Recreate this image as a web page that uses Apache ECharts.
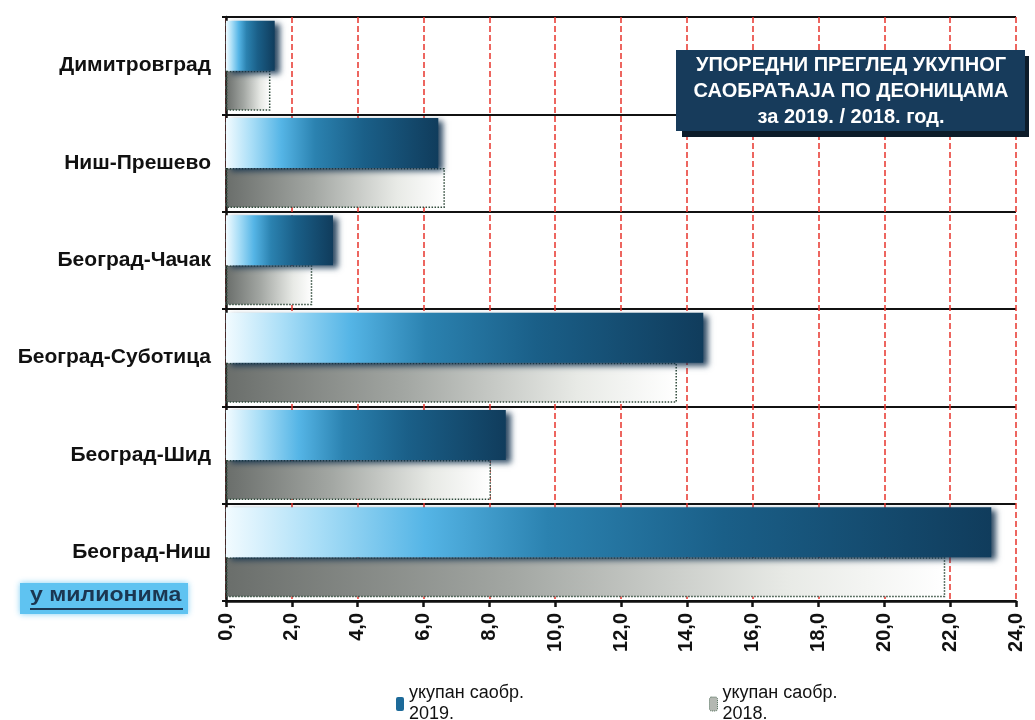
<!DOCTYPE html>
<html>
<head>
<meta charset="utf-8">
<script src="https://cdn.jsdelivr.net/npm/echarts@6/dist/echarts.min.js"></script>
<style>html,body{margin:0;padding:0;background:#fff}#c{width:1035px;height:720px}</style>
</head>
<body>
<div id="c"></div>
<script>
const categories = ['Димитровград', 'Ниш-Прешево', 'Београд-Чачак', 'Београд-Суботица', 'Београд-Шид', 'Београд-Ниш'];
const values2019 = [1.48, 6.45, 3.25, 14.5, 8.5, 23.25];
const values2018 = [1.35, 6.65, 2.62, 13.7, 8.05, 21.85];
const seriesNames = ['укупан саобр.\n2019.', 'укупан саобр.\n2018.'];
const xTicks = ['0,0','2,0','4,0','6,0','8,0','10,0','12,0','14,0','16,0','18,0','20,0','22,0','24,0'];
const titleLines = ['УПОРЕДНИ ПРЕГЛЕД УКУПНОГ', 'САОБРАЋАЈА ПО ДЕОНИЦАМА', 'за 2019. / 2018. год.'];
const unitLabel = 'у милионима';

const blueGrad = new echarts.graphic.LinearGradient(0, 0, 1, 0, [
  {offset: 0, color: '#f2fbff'},
  {offset: 0.12, color: '#a9def7'},
  {offset: 0.26, color: '#55b5e6'},
  {offset: 0.42, color: '#2b82b0'},
  {offset: 0.65, color: '#1a5f88'},
  {offset: 1, color: '#103c5c'}
]);
const grayGrad = new echarts.graphic.LinearGradient(0, 0, 1, 0, [
  {offset: 0, color: '#6a6e6b'},
  {offset: 0.4, color: '#a3a7a3'},
  {offset: 0.78, color: '#e8eae6'},
  {offset: 1, color: '#ffffff'}
]);

const chart = echarts.init(document.getElementById('c'));
const font = 'Liberation Sans, Arial, sans-serif';

chart.setOption({
  animation: false,
  grid: {left: 226, right: 19, top: 17, bottom: 119},
  xAxis: {
    type: 'value', min: 0, max: 24, interval: 2,
    axisLine: {show: true, lineStyle: {color: '#111', width: 2.5}},
    axisTick: {show: true, length: 6, lineStyle: {color: '#111', width: 2.5}},
    axisLabel: {
      rotate: 90, margin: 12, color: '#111', fontSize: 20, fontWeight: 'bold', fontFamily: font,
      formatter: v => xTicks[Math.round(v / 2)]
    },
    splitLine: {show: true, lineStyle: {color: '#e8352c', type: [6, 3], width: 1.5}}
  },
  yAxis: {
    type: 'category', data: categories, inverse: true,
    axisLine: {show: true, lineStyle: {color: '#111', width: 2.5}},
    axisTick: {show: true, length: 4, lineStyle: {color: '#111', width: 2}},
    axisLabel: {color: '#111', fontSize: 21, fontWeight: 'bold', fontFamily: font, margin: 15},
    splitLine: {show: true, lineStyle: {color: '#111', width: 2}}
  },
  legend: [
    {
      data: [seriesNames[0]], left: 391, top: 678, itemWidth: 8, itemHeight: 14, itemGap: 4,
      textStyle: {fontSize: 18, fontFamily: font, color: '#111', lineHeight: 21},
      itemStyle: {color: '#1d6a99'}
    },
    {
      data: [seriesNames[1]], left: 704, top: 678, itemWidth: 8, itemHeight: 14,
      textStyle: {fontSize: 18, fontFamily: font, color: '#111', lineHeight: 21},
      itemStyle: {color: '#b4b8b2', borderColor: '#4c6a55', borderType: 'dotted', borderWidth: 1}
    }
  ],
  series: [
    {
      name: seriesNames[0], type: 'bar', data: values2019,
      barWidth: 50, barGap: '0%',
      itemStyle: {
        color: blueGrad,
        shadowBlur: 6, shadowOffsetX: 5, shadowOffsetY: 3, shadowColor: 'rgba(12,45,75,0.85)'
      },
      z: 3
    },
    {
      name: seriesNames[1], type: 'bar', data: values2018,
      barWidth: 40,
      itemStyle: {
        color: grayGrad,
        borderColor: '#2f4a3a', borderType: 'dotted', borderWidth: 1.5
      },
      z: 2
    }
  ],
  graphic: [
    {type: 'rect', x: 682, y: 56, shape: {width: 347, height: 81}, style: {fill: '#0d1c2a'}, z: 10},
    {type: 'rect', x: 676, y: 50, shape: {width: 349, height: 81}, style: {fill: '#173b5b'}, z: 11},
    {type: 'text', z: 12, x: 851, y: 52,
      style: {text: titleLines.join('\n'), fill: '#fff', font: 'bold 20px ' + font,
        align: 'center', textAlign: 'center', lineHeight: 26}},
    {type: 'rect', x: 20, y: 583, shape: {width: 168, height: 31}, style: {fill: '#5fc3f1', shadowBlur: 6, shadowColor: 'rgba(95,195,241,0.8)'}, z: 10},
    {type: 'text', z: 12, x: 30, y: 585, scaleX: 1.1,
      style: {text: unitLabel, fill: '#1b3651', font: 'bold 21px ' + font}},
    {type: 'line', z: 12, shape: {x1: 30, y1: 609, x2: 183, y2: 609}, style: {stroke: '#1b3651', lineWidth: 2}}
  ]
});
</script>
</body>
</html>
